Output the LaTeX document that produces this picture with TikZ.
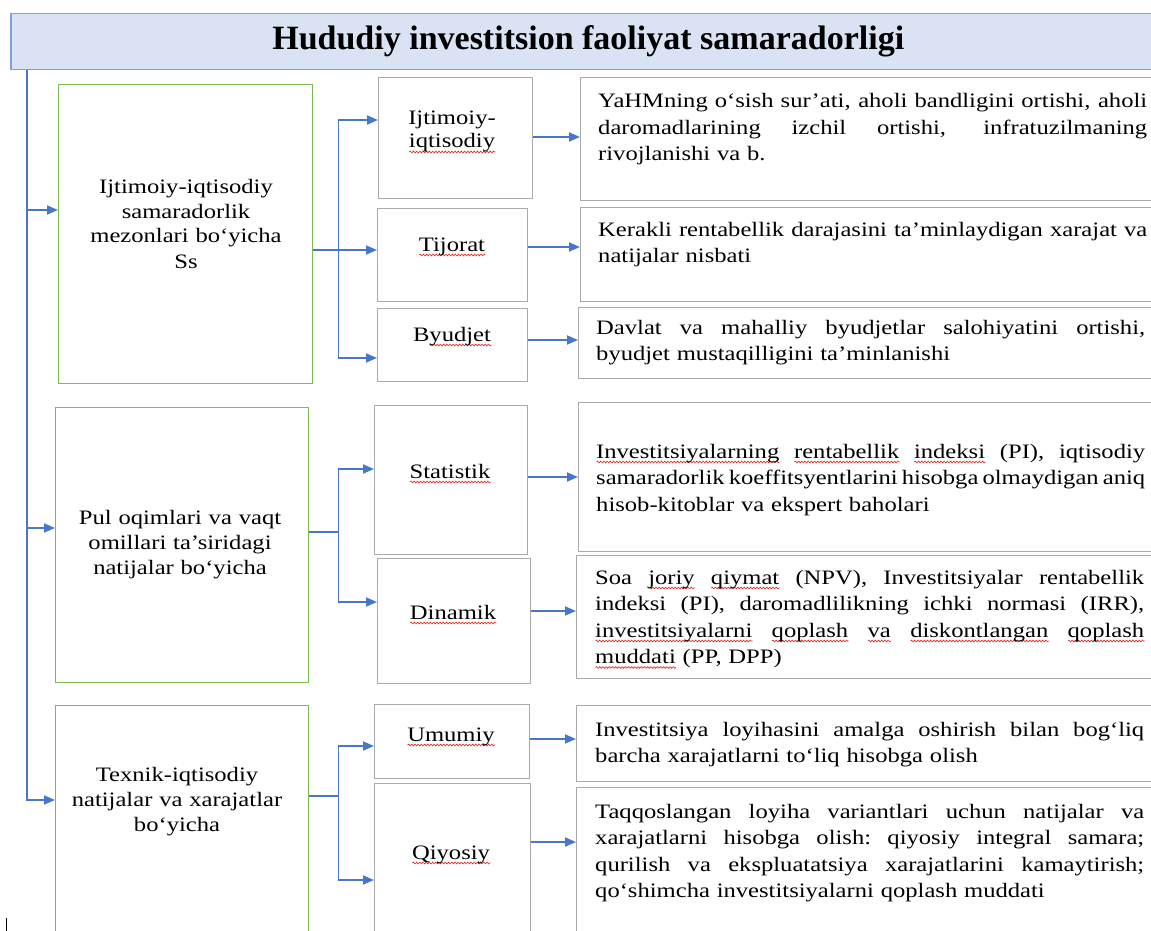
\documentclass[tikz,border=0pt]{standalone}
\usepackage{fontspec}
\setmainfont{Liberation Serif}
\newfontfamily\bodyf{Liberation Serif}[FakeStretch=1.2]
\usetikzlibrary{arrows.meta,decorations.pathmorphing}
\definecolor{titlefill}{RGB}{218,227,243}
\definecolor{titleblue}{RGB}{125,162,218}
\definecolor{boxgreen}{RGB}{126,185,85}
\definecolor{boxgray}{RGB}{170,170,170}
\definecolor{linkblue}{RGB}{72,118,200}
\definecolor{wavered}{RGB}{225,30,30}
\newsavebox\rwbox
\newlength\rwlen
\newcommand\rw[1]{\leavevmode\sbox\rwbox{#1}\setlength\rwlen{\wd\rwbox}%
  \rlap{\tikz[baseline=0pt,x=1pt,y=1pt]\draw[wavered,line width=0.6pt,decorate,decoration={snake,amplitude=0.9pt,segment length=3.2pt}] (0pt,-4pt) -- (\rwlen,-4pt);}\usebox\rwbox}
\newcommand\jl[1]{\makebox[549pt][s]{\spaceskip=0.25em plus 3em minus 0.1em\xspaceskip=\spaceskip #1}}
\newcommand\mkbox[6]{\node[#2, anchor=north west, inner sep=0pt, minimum width={#5pt-#3pt}, minimum height={#6pt-#4pt}] (#1) at (#3,#4) {};}
\begin{document}
\begin{tikzpicture}[x=1pt,y=-1pt,
  titlebox/.style={draw=titleblue, fill=titlefill, line width=1.5pt},
  gbox/.style={draw=boxgreen, line width=1.4pt},
  wbox/.style={draw=boxgray, line width=1.4pt},
  link/.style={draw=linkblue, line width=1.8pt},
  arr/.style={link, -{Triangle[length=11pt,width=9pt]}},
  bodytxt/.style={font={\bodyf\fontsize{20.5}{26.5}\selectfont}, text width=549pt, align=left, inner sep=0pt, anchor=base west},
  lbl/.style={font={\bodyf\fontsize{20.5}{25}\selectfont}, text width=250pt, align=center, inner sep=0pt, anchor=base},
  mlbl/.style={font={\bodyf\fontsize{20.5}{23}\selectfont}, text width=150pt, align=center, inner sep=0pt, anchor=base}]
\useasboundingbox (0,0) rectangle (1151,931);
\clip (0,0) rectangle (1151,931);
\fill[white] (0,0) rectangle (1151,931);

% title
\node[titlebox, anchor=north west, inner sep=0pt, minimum width=1155pt, minimum height=56pt,
      font={\bfseries\fontsize{34}{40}\selectfont}] (title) at (10,13) {Hududiy investitsion faoliyat samaradorligi};

% left boxes
\mkbox{g1}{gbox}{58}{84}{312}{383}
\mkbox{g2}{gbox}{55}{407}{308}{682}
\mkbox{g3}{gbox}{55}{705}{308}{950}
% middle boxes
\mkbox{m1}{wbox}{378}{77}{532}{198}
\mkbox{m2}{wbox}{377}{208}{527}{301}
\mkbox{m3}{wbox}{377}{308}{527}{381}
\mkbox{m4}{wbox}{374}{405}{527}{554}
\mkbox{m5}{wbox}{377}{558}{530}{683}
\mkbox{m6}{wbox}{374}{704}{529}{778}
\mkbox{m7}{wbox}{374}{783}{530}{950}
% right boxes
\mkbox{r1}{wbox}{580}{77}{1170}{200}
\mkbox{r2}{wbox}{580}{207}{1170}{301}
\mkbox{r3}{wbox}{578}{307}{1170}{378}
\mkbox{r4}{wbox}{578}{402}{1170}{551}
\mkbox{r5}{wbox}{576}{555}{1170}{678}
\mkbox{r6}{wbox}{576}{705}{1170}{781}
\mkbox{r7}{wbox}{576}{787}{1170}{950}

% left labels
\node[lbl] (g1t) at (186,193) {Ijtimoiy-iqtisodiy\\samaradorlik\\mezonlari bo‘yicha\\Ss};
\node[lbl] (g2t) at (180,524) {Pul oqimlari va vaqt\\omillari ta’siridagi\\natijalar bo‘yicha};
\node[lbl] (g3t) at (177,781) {Texnik-iqtisodiy\\natijalar va xarajatlar\\bo‘yicha};

% middle labels
\node[mlbl] (m1t) at (452,125) {Ijtimoiy-\\\rw{iqtisodiy}};
\node[mlbl] (m2t) at (452,251) {\rw{Tijorat}};
\node[mlbl] (m3t) at (452,341) {B\rw{yudjet}};
\node[mlbl] (m4t) at (450,478) {\rw{Statistik}};
\node[mlbl] (m5t) at (453,619) {\rw{Dinamik}};
\node[mlbl] (m6t) at (451,741) {\rw{Umumiy}};
\node[mlbl] (m7t) at (451,859) {\rw{Qiyosiy}};

% right texts
\node[bodytxt] (r1t) at (598,108) {\jl{YaHMning o‘sish sur’ati, aholi bandligini ortishi, aholi}\\
  \jl{daromadlarining izchil ortishi, infratuzilmaning}\\
  rivojlanishi va b.};
\node[bodytxt] (r2t) at (598,236) {\jl{Kerakli rentabellik darajasini ta’minlaydigan xarajat va}\\
  natijalar nisbati};
\node[bodytxt] (r3t) at (596,334) {\jl{Davlat va mahalliy byudjetlar salohiyatini ortishi,}\\
  byudjet mustaqilligini ta’minlanishi};
\node[bodytxt] (r4t) at (596,458) {\jl{\rw{Investitsiyalarning} \rw{rentabellik} \rw{indeksi} (PI), iqtisodiy}\\
  \jl{samaradorlik koeffitsyentlarini hisobga olmaydigan aniq}\\
  hisob-kitoblar va ekspert baholari};
\node[bodytxt] (r5t) at (595,584) {\jl{Soa \rw{joriy} \rw{qiymat} (NPV), Investitsiyalar rentabellik}\\
  \jl{indeksi (PI), daromadlilikning ichki normasi (IRR),}\\
  \jl{\rw{investitsiyalarni} \rw{qoplash} \rw{va} \rw{diskontlangan} \rw{qoplash}}\\
  \rw{muddati} (PP, DPP)};
\node[bodytxt] (r6t) at (595,736) {\jl{Investitsiya loyihasini amalga oshirish bilan bog‘liq}\\
  barcha xarajatlarni to‘liq hisobga olish};
\node[bodytxt] (r7t) at (595,818) {\jl{Taqqoslangan loyiha variantlari uchun natijalar va}\\
  \jl{xarajatlarni hisobga olish: qiyosiy integral samara;}\\
  \jl{qurilish va ekspluatatsiya xarajatlarini kamaytirish;}\\
  qo‘shimcha investitsiyalarni qoplash muddati};

% trunk
\coordinate (tr) at ([xshift=17pt]title.south west);
\draw[arr] (tr) |- (g3.west |- 0,800);
\draw[arr] (tr |- 0,210) -- (g1.west |- 0,210);
\draw[arr] (tr |- 0,528) -- (g2.west |- 0,528);

% group 1
\coordinate (h1) at (g1.east |- 0,250);
\coordinate (h1) at ([xshift=25pt]h1);
\draw[arr] (g1.east |- 0,250) -- (h1) -- (m2.west |- h1);
\draw[arr] (h1) |- (m1.west |- 0,120);
\draw[arr] (h1) |- (m3.west |- 0,358);
\draw[arr] (m1.east |- 0,137) -- (r1.west |- 0,137);
\draw[arr] (m2.east |- 0,247) -- (r2.west |- 0,247);
\draw[arr] (m3.east |- 0,340) -- (r3.west |- 0,340);

% group 2
\coordinate (h2) at (g2.east |- 0,532);
\coordinate (h2) at ([xshift=29pt]h2);
\draw[link] (g2.east |- 0,532) -- (h2);
\draw[arr] (h2) |- (m4.west |- 0,469);
\draw[arr] (h2) |- (m5.west |- 0,602);
\draw[arr] (m4.east |- 0,477) -- (r4.west |- 0,477);
\draw[arr] (m5.east |- 0,611) -- (r5.west |- 0,611);

% group 3
\coordinate (h3) at (g3.east |- 0,796);
\coordinate (h3) at ([xshift=29pt]h3);
\draw[link] (g3.east |- 0,796) -- (h3);
\draw[arr] (h3) |- (m6.west |- 0,746);
\draw[arr] (h3) |- (m7.west |- 0,880);
\draw[arr] (m6.east |- 0,739) -- (r6.west |- 0,739);
\draw[arr] (m7.east |- 0,842) -- (r7.west |- 0,842);

% cursor mark
\draw[line width=1pt] (6,918) -- (6,931);
\end{tikzpicture}
\end{document}
